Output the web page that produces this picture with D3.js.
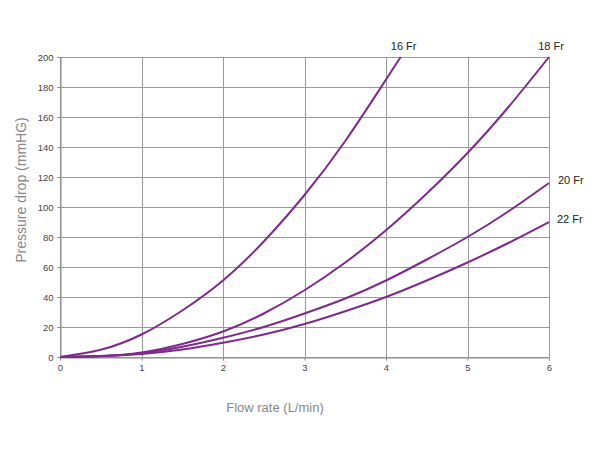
<!DOCTYPE html>
<html>
<head>
<meta charset="utf-8">
<script src="https://cdn.jsdelivr.net/npm/d3@7"></script>
<style>
  html, body { margin: 0; padding: 0; background: #fff; }
  svg { display: block; font-family: "Liberation Sans", Arial, sans-serif; }
</style>
</head>
<body>
<svg id="chart" width="600" height="450"></svg>
<script>
// Data
const xTicks = [0, 1, 2, 3, 4, 5, 6];
const yTicks = [0, 20, 40, 60, 80, 100, 120, 140, 160, 180, 200];
const flow16 = [0, 0.5, 1, 1.5, 2, 2.5, 3, 3.5, 4, 4.18];
const pres16 = [0, 4.8, 15, 31, 51, 77, 108, 144, 185, 200];
const flowStd = [0, 0.5, 1, 1.5, 2, 2.5, 3, 3.5, 4, 4.5, 5, 5.5, 6];
const pres18 = [0, 0.6, 3, 8.7, 17, 29, 44.5, 63, 84.5, 109, 136, 166.5, 200];
const pres20 = [0, 0.6, 2.5, 6.8, 12.8, 20, 29, 39, 51, 65, 80, 97, 116];
const pres22 = [0, 0.5, 2, 5, 9.5, 15, 22, 30.5, 40, 51, 63, 76, 90];
const seriesNames = ["16 Fr", "18 Fr", "20 Fr", "22 Fr"];

const series = [
  { name: seriesNames[0], xs: flow16, ys: pres16 },
  { name: seriesNames[1], xs: flowStd, ys: pres18 },
  { name: seriesNames[2], xs: flowStd, ys: pres20 },
  { name: seriesNames[3], xs: flowStd, ys: pres22 }
];

const svg = d3.select("#chart");
const margin = { left: 60, right: 51, top: 57, bottom: 93 };
const W = 600, H = 450;
const x = d3.scaleLinear().domain([0, 6]).range([margin.left, W - margin.right]);
const y = d3.scaleLinear().domain([0, 200]).range([H - margin.bottom, margin.top]);

const purple = "#7e2a8c";
const gridColor = "#9a9a9a";

// grid
const g = svg.append("g");
g.selectAll(".hg").data(yTicks).enter().append("line")
  .attr("x1", x(0)).attr("x2", x(6))
  .attr("y1", d => Math.round(y(d)) + 0.5).attr("y2", d => Math.round(y(d)) + 0.5)
  .attr("stroke", gridColor).attr("stroke-width", 1);
g.selectAll(".vg").data(xTicks).enter().append("line")
  .attr("y1", y(0)).attr("y2", y(200))
  .attr("x1", d => Math.round(x(d)) + 0.5).attr("x2", d => Math.round(x(d)) + 0.5)
  .attr("stroke", gridColor).attr("stroke-width", 1);

// axes
const fmt = d3.format("d");
const yAxis = d3.axisLeft(y).tickValues(yTicks).tickFormat(fmt).tickSize(3).tickPadding(4);
const xAxis = d3.axisBottom(x).tickValues(xTicks).tickFormat(fmt).tickSize(3).tickPadding(4);
const ya = svg.append("g").attr("transform", `translate(${Math.round(x(0)) + 0.5},0)`).call(yAxis);
const xa = svg.append("g").attr("transform", `translate(0,${Math.round(y(0)) + 0.5})`).call(xAxis);
[ya, xa].forEach(a => {
  a.select(".domain").attr("stroke", "#8a8a8a");
  a.selectAll(".tick line").attr("stroke", "#8a8a8a");
  a.selectAll(".tick text").attr("fill", "#444").style("font-size", "9.5px")
    .style("font-family", "'Liberation Sans', Arial, sans-serif");
});

// lines
const line = d3.line().x(d => x(d[0])).y(d => y(d[1])).curve(d3.curveNatural);
series.forEach(s => {
  const pts = s.xs.map((v, i) => [v, s.ys[i]]);
  svg.append("path").datum(pts).attr("d", line)
    .attr("fill", "none").attr("stroke", purple).attr("stroke-width", 2);
});

// series labels
const lab = svg.append("g").style("font-size", "11px").attr("fill", "#222");
lab.append("text").attr("x", x(4.18) + 3).attr("y", 50).attr("text-anchor", "middle").text(seriesNames[0]);
lab.append("text").attr("x", x(6) + 2).attr("y", 50).attr("text-anchor", "middle").text(seriesNames[1]);
lab.append("text").attr("x", x(6) + 9).attr("y", y(116) + 1).attr("text-anchor", "start").text(seriesNames[2]);
lab.append("text").attr("x", x(6) + 8).attr("y", y(90) + 1).attr("text-anchor", "start").text(seriesNames[3]);

// axis titles
svg.append("text").attr("x", 275).attr("y", 412).attr("text-anchor", "middle")
  .attr("fill", "#888").style("font-size", "13px").text("Flow rate (L/min)");
svg.append("text").attr("transform", "translate(26,190) rotate(-90)").attr("text-anchor", "middle")
  .attr("fill", "#888").style("font-size", "14px").text("Pressure drop (mmHG)");
</script>
</body>
</html>
